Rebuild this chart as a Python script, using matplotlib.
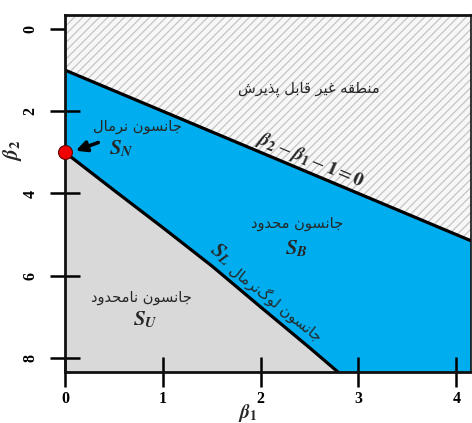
import numpy as np
import matplotlib
matplotlib.use("Agg")
import matplotlib.pyplot as plt

plt.rcParams["mathtext.fontset"] = "stix"
plt.rcParams["hatch.color"] = "#c4c4c4"
plt.rcParams["hatch.linewidth"] = 0.9

# ---- data -------------------------------------------------------------
# Lognormal (S_L) boundary in the (beta1, beta2) plane
LOGN_B1 = [0.0, 0.5, 1.0, 1.5, 2.0, 2.5, 2.8, 2.88]
LOGN_B2 = [3.0, 3.92, 4.83, 5.76, 6.76, 7.75, 8.36, 8.52]
# Impossible-region boundary: beta2 - beta1 - 1 = 0
LIMIT_B1 = [0.0, 4.3]
LIMIT_B2 = [1.0, 5.3]
# Normal distribution point
NORMAL_PT = (0.0, 3.0)

X_TICKS = [0, 1, 2, 3, 4]
Y_TICKS = [0, 2, 4, 6, 8]

LBL_IMPOSSIBLE = "منطقه غیر قابل پذیرش"
LBL_NORMAL = "جانسون نرمال"
LBL_BOUNDED = "جانسون محدود"
LBL_UNBOUNDED = "جانسون نامحدود"
LBL_LOGNORMAL = "جانسون لوگ\u200cنرمال"

# ---- minimal Arabic-script shaping (presentation forms, visual order) --
FORMS = {
    "ا": ("\uFE8D", "\uFE8E", None, None),
    "ب": ("\uFE8F", "\uFE90", "\uFE91", "\uFE92"),
    "پ": ("\uFB56", "\uFB57", "\uFB58", "\uFB59"),
    "ج": ("\uFE9D", "\uFE9E", "\uFE9F", "\uFEA0"),
    "ح": ("\uFEA1", "\uFEA2", "\uFEA3", "\uFEA4"),
    "د": ("\uFEA9", "\uFEAA", None, None),
    "ذ": ("\uFEAB", "\uFEAC", None, None),
    "ر": ("\uFEAD", "\uFEAE", None, None),
    "س": ("\uFEB1", "\uFEB2", "\uFEB3", "\uFEB4"),
    "ش": ("\uFEB5", "\uFEB6", "\uFEB7", "\uFEB8"),
    "ط": ("\uFEC1", "\uFEC2", "\uFEC3", "\uFEC4"),
    "غ": ("\uFECD", "\uFECE", "\uFECF", "\uFED0"),
    "ق": ("\uFED5", "\uFED6", "\uFED7", "\uFED8"),
    "ل": ("\uFEDD", "\uFEDE", "\uFEDF", "\uFEE0"),
    "م": ("\uFEE1", "\uFEE2", "\uFEE3", "\uFEE4"),
    "ن": ("\uFEE5", "\uFEE6", "\uFEE7", "\uFEE8"),
    "و": ("\uFEED", "\uFEEE", None, None),
    "ه": ("\uFEE9", "\uFEEA", "\uFEEB", "\uFEEC"),
    "ی": ("\uFEEF", "\uFEF0", "\uFEF3", "\uFEF4"),
    "گ": ("\uFB92", "\uFB93", "\uFB94", "\uFB95"),
}


def shape(text):
    chars = list(text)
    out = []
    for i, c in enumerate(chars):
        if c == "\u200c":
            continue
        if c not in FORMS:
            out.append(c)
            continue
        prev = chars[i - 1] if i > 0 else None
        nxt = chars[i + 1] if i + 1 < len(chars) else None
        right = prev in FORMS and FORMS[prev][2] is not None
        left = nxt in FORMS and FORMS[c][2] is not None
        iso, fin, ini, med = FORMS[c]
        if right and left:
            out.append(med)
        elif right:
            out.append(fin)
        elif left:
            out.append(ini)
        else:
            out.append(iso)
    return "".join(reversed(out))


# ---- figure -----------------------------------------------------------
fig = plt.figure(figsize=(4.72, 4.23), dpi=100)
ax = fig.add_axes([65 / 472, 51 / 423, 406 / 472, 357 / 423])

XMIN, XMAX = 0.0, 4.15
YTOP, YBOT = -0.34, 8.34
ax.set_xlim(XMIN, XMAX)
ax.set_ylim(YBOT, YTOP)

GRAY = "#d9d9d9"
BLUE = "#00aeef"
ax.set_facecolor(GRAY)

# bounded (S_B) region: everything above the lognormal curve
bx = [XMIN] + LOGN_B1 + [XMAX + 0.3, XMAX + 0.3]
by = [YTOP - 0.5] + LOGN_B2 + [LOGN_B2[-1], YTOP - 0.5]
ax.fill(bx, by, color=BLUE, lw=0, zorder=1)

# impossible region above beta2 = beta1 + 1
hx = [LIMIT_B1[0], LIMIT_B1[0], LIMIT_B1[1], LIMIT_B1[1]]
hy = [YTOP - 0.5, LIMIT_B2[0], LIMIT_B2[1], YTOP - 0.5]
ax.fill(hx, hy, facecolor="#f7f7f7", edgecolor="#c4c4c4", hatch="////",
        lw=0, zorder=2)

ax.plot(LIMIT_B1, LIMIT_B2, color="black", lw=2.3, zorder=3)
ax.plot(LOGN_B1, LOGN_B2, color="black", lw=2.3, zorder=3)

ax.plot(*NORMAL_PT, "o", ms=10, color="#f00000", mec="#600000", mew=0.8,
        zorder=6, clip_on=False)
ax.annotate("", xy=(0.11, 2.96), xytext=(0.34, 2.76),
            arrowprops=dict(arrowstyle="-|>", lw=2.6, color="black",
                            mutation_scale=16, shrinkA=0, shrinkB=0),
            zorder=6)

# ---- labels -------------------------------------------------------------
TXT = "#262626"
fa = dict(family="DejaVu Sans", color=TXT, ha="center", va="center",
          zorder=7)
ax.text(2.49, 1.48, shape(LBL_IMPOSSIBLE), fontsize=10.5, **fa)
ax.text(0.74, 2.38, shape(LBL_NORMAL), fontsize=10.5, **fa)
ax.text(2.37, 4.73, shape(LBL_BOUNDED), fontsize=10.5, **fa)
ax.text(0.78, 6.53, shape(LBL_UNBOUNDED), fontsize=10.5, **fa)
ax.text(2.16, 6.66, shape(LBL_LOGNORMAL), fontsize=10.5, rotation=62,
        transform_rotates_text=True, rotation_mode="anchor", **fa)

ma = dict(color=TXT, ha="center", va="center", zorder=7, fontsize=15)
ax.text(0.58, 2.9, r"$\mathbfit{S}_{\mathbfit{N}}$", **ma)
ax.text(2.37, 5.34, r"$\mathbfit{S}_{\mathbfit{B}}$", **ma)
ax.text(0.82, 7.06, r"$\mathbfit{S}_{\mathbfit{U}}$", **ma)
ax.text(1.6, 5.47, r"$\mathbfit{S}_{\mathbfit{L}}$", rotation=62,
        transform_rotates_text=True, rotation_mode="anchor", **ma)
ax.text(2.51, 3.18,
        r"$\mathbfit{\beta}_{\mathbf{2}}-\mathbfit{\beta}_{\mathbf{1}}"
        r"-\mathbf{1}=\mathbf{0}$",
        rotation=45, transform_rotates_text=True, rotation_mode="anchor",
        color=TXT, ha="center", va="center", zorder=7, fontsize=14)

# ---- axes styling -------------------------------------------------------
ax.set_xticks(X_TICKS)
ax.set_yticks(Y_TICKS)
ax.set_xticklabels([str(v) for v in X_TICKS], family="Liberation Serif",
                   fontweight="bold", fontsize=11.5)
ax.set_yticklabels([str(v) for v in Y_TICKS], family="Liberation Serif",
                   fontweight="bold", fontsize=11.5, rotation=90, va="center")
ax.tick_params(axis="both", direction="inout", length=22, width=1.8,
               color="black")
ax.tick_params(axis="x", pad=3)
ax.tick_params(axis="y", pad=8)
for side, lw in (("left", 2.0), ("bottom", 2.0), ("top", 2.0), ("right", 1.2)):
    ax.spines[side].set_linewidth(lw)
    ax.spines[side].set_color("#111111")
    ax.spines[side].set_zorder(5)

ax.set_xlabel(r"$\mathbfit{\beta}_{\mathbf{1}}$", fontsize=14, color=TXT)
ax.set_ylabel(r"$\mathbfit{\beta}_{\mathbf{2}}$", fontsize=15, color=TXT)
ax.xaxis.set_label_coords(0.45, -0.084)
ax.yaxis.set_label_coords(-0.10, 0.62)

fig.savefig("out.png", dpi=100)
